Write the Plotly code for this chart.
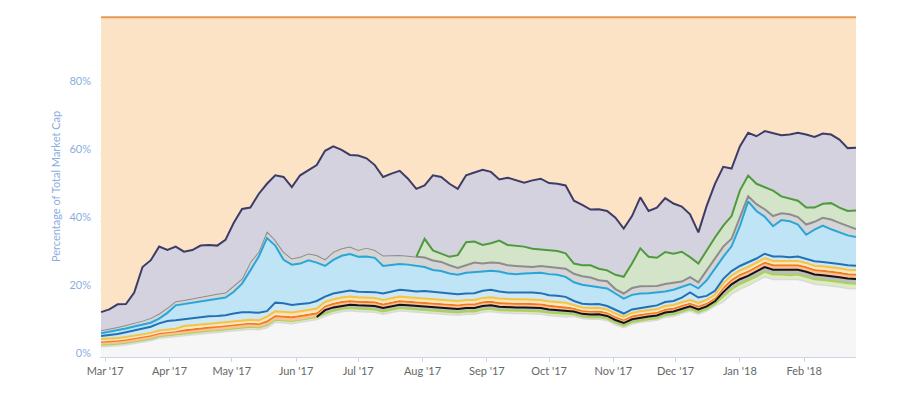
import numpy as np
import pandas as pd
import plotly.graph_objects as go

# ---- data (percent of total market cap), sampled every 4 days ----
dates = pd.date_range("2017-02-27", periods=92, freq="4D")

others = [3.0,3.1,3.3,3.6,4.0,4.4,4.8,5.5,5.8,6.0,
          6.3,6.6,6.8,7.0,7.2,7.4,7.8,8.0,8.2,8.0,
          8.6,10.2,10.0,9.8,10.2,10.5,11.0,12.0,12.8,13.3,
          13.6,13.4,13.3,13.2,12.6,13.2,13.6,13.4,13.2,13.2,
          13.0,12.8,12.6,12.3,12.6,12.6,13.2,13.4,13.0,12.8,
          12.8,12.8,12.7,12.6,12.2,12.0,11.8,12.0,11.3,11.1,
          11.2,10.7,9.5,8.6,9.7,10.2,10.5,10.8,11.7,12.0,
          12.8,13.5,12.6,13.5,15.0,16.2,18.5,20.0,21.0,22.2,
          23.6,22.8,22.8,22.6,22.8,22.2,21.4,21.2,21.0,20.6,
          20.2,20.1]

cardano = [0.6,0.6,0.6,0.6,0.6,0.6,0.6,0.6,0.6,0.6,
           0.7,0.7,0.7,0.7,0.7,0.7,0.7,0.7,0.7,0.7,
           0.8,0.8,0.8,0.8,0.8,0.8,0.8,0.8,0.8,0.8,
           0.8,0.8,0.8,0.8,0.8,0.8,0.8,0.8,0.8,0.8,
           0.8,0.8,0.8,0.8,0.8,0.8,0.8,0.8,0.8,0.8,
           0.8,0.8,0.8,0.8,0.8,0.8,0.8,0.6,0.6,0.6,
           0.6,0.6,0.6,0.6,0.6,0.6,0.6,0.6,0.6,0.6,
           0.6,0.6,0.6,0.6,0.6,1.5,1.5,1.5,1.5,1.5,
           1.5,1.5,1.5,1.5,1.5,1.5,1.5,1.5,1.5,1.5,
           1.5,1.5]

# IOTA: zero until listed in mid-June 2017 (index 27)
iota = [0,0,0,0,0,0,0,0,0,0,
        0,0,0,0,0,0,0,0,0,0,
        0,0,0,0,0,0,0,1.0,1.0,1.0,
        1.0,1.0,1.0,1.0,1.0,1.0,1.0,1.0,1.0,1.0,
        1.0,1.0,1.0,1.0,1.0,1.0,1.0,1.0,1.0,1.0,
        1.0,1.0,1.0,1.0,1.0,1.0,1.0,0.8,0.8,0.8,
        0.8,0.8,0.8,0.8,0.8,0.8,0.8,0.8,0.8,0.8,
        0.8,0.8,0.8,0.8,0.8,1.4,1.4,1.4,1.4,1.4,
        1.4,1.4,1.4,1.4,1.4,1.4,1.4,1.4,1.4,1.4,
        1.4,1.4]

monero = [0.9,0.9,0.9,0.9,0.9,0.9,0.9,0.9,0.9,0.9,
          1.0,1.0,1.0,1.0,1.0,1.0,1.0,1.0,1.0,1.0,
          1.1,1.1,1.1,1.1,1.1,1.1,1.1,1.1,1.1,1.1,
          1.1,1.1,1.1,1.1,1.1,1.1,1.1,1.1,1.1,1.1,
          1.1,1.1,1.1,1.1,1.1,1.1,1.1,1.1,1.1,1.1,
          1.1,1.1,1.1,1.1,1.1,1.1,1.1,0.9,0.9,0.9,
          0.9,0.9,0.9,0.9,0.9,0.9,0.9,0.9,0.9,0.9,
          0.9,0.9,0.9,0.9,0.9,1.3,1.3,1.3,1.3,1.3,
          1.3,1.3,1.3,1.3,1.3,1.3,1.3,1.3,1.3,1.3,
          1.3,1.3]

etc = [0.3,0.3,0.3,0.3,0.3,0.3,0.3,0.3,0.3,0.3,
       0.4,0.4,0.4,0.4,0.4,0.4,0.4,0.4,0.4,0.4,
       0.5,0.5,0.5,0.5,0.5,0.5,0.5,0.5,0.5,0.5,
       0.5,0.5,0.5,0.5,0.5,0.5,0.5,0.5,0.5,0.5,
       0.5,0.5,0.5,0.5,0.5,0.5,0.5,0.5,0.5,0.5,
       0.5,0.5,0.5,0.5,0.5,0.5,0.5,0.4,0.4,0.4,
       0.4,0.4,0.4,0.4,0.4,0.4,0.4,0.4,0.4,0.4,
       0.4,0.4,0.4,0.4,0.4,0.5,0.5,0.5,0.5,0.5,
       0.5,0.5,0.5,0.5,0.5,0.5,0.5,0.5,0.5,0.5,
       0.5,0.5]

nem = [0.5,0.5,0.5,0.5,0.5,0.5,0.5,0.5,0.5,0.5,
       0.7,0.7,0.7,0.7,0.7,0.7,0.7,0.7,0.7,0.7,
       0.9,0.9,0.9,0.9,0.9,0.9,0.9,0.8,0.8,0.8,
       0.8,0.8,0.8,0.8,0.8,0.8,0.8,0.8,0.8,0.8,
       0.8,0.8,0.8,0.8,0.8,0.8,0.8,0.8,0.8,0.8,
       0.8,0.8,0.8,0.8,0.8,0.8,0.8,0.6,0.6,0.6,
       0.6,0.6,0.6,0.6,0.6,0.6,0.6,0.6,0.6,0.6,
       0.6,0.6,0.6,0.6,0.6,0.8,0.8,0.8,0.8,0.8,
       0.8,0.8,0.8,0.8,0.8,0.8,0.8,0.8,0.8,0.8,
       0.8,0.8]

dash = [0.9,1.0,1.2,1.4,1.6,1.7,1.8,2.1,2.5,2.5,
        2.0,2.2,2.2,2.2,2.1,2.1,2.2,2.4,2.2,2.2,
        1.6,2.5,2.5,2.2,2.1,2.0,2.2,1.6,1.7,1.7,
        1.8,1.6,1.7,1.7,1.9,1.8,2.0,2.0,1.9,2.0,
        2.0,2.0,1.9,2.0,1.9,2.0,2.1,2.2,2.1,2.0,
        2.0,2.1,2.1,2.0,1.8,1.8,1.7,1.2,1.1,1.1,
        1.1,1.0,1.0,0.9,1.0,1.0,1.0,1.1,1.2,1.2,
        1.4,2.2,1.6,1.2,1.2,1.3,1.3,1.3,1.3,1.3,
        1.3,1.3,1.3,1.3,1.3,1.3,1.3,1.3,1.3,1.3,
        1.3,1.3]

ripple = [0.8,1.0,1.1,1.1,1.1,1.1,1.2,1.4,2.4,4.4,
          4.5,4.4,4.5,4.7,5.0,5.2,6.4,8.4,12.3,16.5,
          21.5,16.8,12.8,11.9,11.9,12.7,11.3,9.0,9.9,10.6,
          10.7,10.3,10.4,10.1,8.1,8.0,7.6,7.6,7.6,7.1,
          6.4,6.3,5.9,5.7,6.1,6.3,5.7,5.6,5.9,5.6,
          5.4,5.5,5.7,6.0,6.2,6.2,5.9,5.5,5.6,5.5,
          4.9,5.2,4.9,4.4,4.3,4.2,4.0,3.8,3.1,3.3,
          3.1,2.5,2.7,4.6,6.5,6.5,7.3,11.7,18.0,14.0,
          10.9,8.9,10.7,10.6,9.4,7.0,9.3,10.7,9.8,9.4,
          8.8,8.4]

litecoin = [0.9,0.9,0.9,1.0,1.0,1.2,1.4,1.5,1.5,1.2,
            1.2,1.3,1.4,1.5,1.5,1.5,1.8,1.5,2.5,1.5,
            2.0,1.7,2.4,1.8,2.0,2.0,2.2,2.0,2.4,2.2,
            2.2,2.0,2.6,2.3,3.1,2.8,2.6,2.6,2.6,2.8,
            2.8,2.7,2.4,2.0,2.2,2.7,2.3,2.4,2.5,2.4,
            2.4,2.1,1.8,2.0,2.1,2.1,2.4,2.5,2.5,2.4,
            2.1,2.1,1.3,1.5,2.0,2.1,2.0,1.9,2.2,2.0,
            1.6,2.0,1.8,2.9,3.0,3.0,2.2,2.5,1.5,2.0,
            2.2,3.0,2.0,2.0,2.2,3.0,2.3,2.3,2.9,2.7,
            2.7,2.4]

# Bitcoin Cash: zero until the fork on 1 Aug 2017 (index 39)
bitcoin_cash = [0,0,0,0,0,0,0,0,0,0,
                0,0,0,0,0,0,0,0,0,0,
                0,0,0,0,0,0,0,0,0,0,
                0,0,0,0,0,0,0,0,0,5.5,
                3.0,2.5,2.5,3.8,6.8,6.2,5.5,5.7,6.6,6.0,
                6.0,5.8,5.4,4.8,4.9,4.9,4.5,3.0,3.2,3.6,
                3.4,3.2,4.2,4.9,7.2,11.2,8.7,8.3,9.4,8.6,
                8.8,5.9,5.5,6.0,6.2,6.2,6.7,8.0,6.1,6.0,
                6.5,7.5,5.0,4.6,4.8,5.0,4.2,4.1,4.8,4.5,
                4.5,5.4]

ethereum = [5.3,5.7,6.7,6.2,9.0,15.8,17.0,19.7,17.0,16.1,
            14.2,14.2,15.1,14.8,14.2,15.5,18.5,20.5,16.0,17.0,
            14.0,19.0,22.0,21.0,24.0,24.5,26.5,31.9,31.0,29.0,
            27.0,27.8,26.3,25.0,23.1,24.0,24.8,22.7,20.0,15.7,
            22.1,22.5,21.5,19.5,19.7,20.3,22.1,21.0,18.0,19.8,
            19.2,18.8,20.1,20.9,19.8,19.8,20.0,18.5,17.8,16.4,
            17.5,17.5,16.8,14.2,14.0,15.0,13.5,14.8,15.9,14.8,
            13.3,12.6,9.2,13.0,15.8,17.3,14.0,13.0,12.6,14.0,
            16.5,17.0,18.0,18.9,20.0,21.5,20.8,20.7,20.2,20.0,
            18.5,18.5]

bitcoin = [86.8,86.0,84.5,84.4,81.0,73.5,71.5,67.5,68.5,67.5,
           69.0,68.5,67.2,67.0,67.2,65.5,60.5,56.4,56.0,52.0,
           49.0,46.5,47.0,50.0,46.5,45.0,43.5,39.3,38.0,39.0,
           40.5,40.7,41.5,43.5,47.0,46.0,45.2,47.5,50.5,49.5,
           46.5,47.0,49.0,50.5,46.5,45.7,44.9,45.5,47.7,47.2,
           48.0,48.7,48.0,47.5,48.8,49.0,49.5,54.0,55.2,56.6,
           56.5,57.0,59.0,62.2,58.5,53.0,57.0,56.0,53.2,54.8,
           55.7,58.0,63.3,55.5,49.0,44.0,44.5,38.0,34.0,35.0,
           33.5,34.0,34.7,34.5,34.0,34.5,35.2,34.2,34.5,36.0,
           38.5,38.4]

iota_listed = 27     # first sample with IOTA data
bch_listed = 39      # first sample after the Bitcoin Cash fork

month_ticks = pd.date_range("2017-03-01", "2018-02-01", freq="MS")
month_labels = ["Mar '17", "Apr '17", "May '17", "Jun '17", "Jul '17", "Aug '17",
                "Sep '17", "Oct '17", "Nov '17", "Dec '17", "Jan '18", "Feb '18"]
y_ticks = [0, 20, 40, 60, 80]
y_labels = ["0%", "20%", "40%", "60%", "80%"]

# ---- styling (bottom of stack first) ----
series = [
    ("Others", others, "#d9d9d9", "#f6f6f6", 1.5),
    ("Cardano", cardano, "#a9d15b", "#dcecc0", 2),
    ("IOTA", iota, "#141414", "#bdbdbd", 0),
    ("Monero", monero, "#f27a1f", "#f8c295", 2),
    ("Ethereum Classic", etc, "#fde6c6", "#fff2e0", 1.5),
    ("NEM", nem, "#f4c446", "#fae3a3", 2),
    ("Dash", dash, "#2271b5", "#cfe8f6", 2),
    ("Ripple", ripple, "#29a6d9", "#bfe4f5", 2),
    ("Litecoin", litecoin, "#8d8d8d", "#d5d5d5", 2),
    ("Bitcoin Cash", bitcoin_cash, "#4f9a3d", "#d3e4c9", 0),
    ("Ethereum", ethereum, "#3d3c66", "#d4d2df", 2),
    ("Bitcoin", bitcoin, "#e39a55", "#fde3c5", 2),
]

fig = go.Figure()
for name, y, lc, fc, lw in series:
    fig.add_trace(go.Scatter(
        x=dates, y=y, name=name, mode="lines",
        stackgroup="dominance", groupnorm="percent" if name == "Others" else None,
        line=dict(color=lc, width=lw), fillcolor=fc,
        hoverinfo="x+name",
    ))

# top-edge lines of the two coins that were listed part-way through the period
stack = np.array([s[1] for s in series], dtype=float)
cum = np.cumsum(stack, axis=0) / stack.sum(axis=0) * 100.0
names = [s[0] for s in series]
for name, start, color in (("IOTA", iota_listed, "#141414"),
                           ("Bitcoin Cash", bch_listed, "#4f9a3d")):
    k = names.index(name)
    fig.add_trace(go.Scatter(
        x=dates[start - 1:], y=cum[k, start - 1:], mode="lines",
        line=dict(color=color, width=2), hoverinfo="skip", showlegend=False,
    ))

font = "Lato, Open Sans, sans-serif"
fig.update_layout(
    width=900, height=394,
    margin=dict(l=92, r=52, t=8, b=45),
    paper_bgcolor="white", plot_bgcolor="white",
    showlegend=False,
    font=dict(family=font, size=11, color="#666666"),
    xaxis=dict(
        type="date",
        range=["2017-02-26 12:00", "2018-02-26"],
        tickvals=month_ticks, ticktext=month_labels,
        showgrid=False, showline=True, linecolor="#ccd6eb", linewidth=1,
        ticks="outside", ticklen=4, tickcolor="#ccd6eb",
        tickfont=dict(size=11, color="#666666"),
        zeroline=False,
    ),
    yaxis=dict(
        range=[0, 100.4],
        tickvals=y_ticks, ticktext=y_labels,
        showgrid=True, gridcolor="#e6e6e6",
        tickfont=dict(size=11, color="#8cade0"),
        ticklabelstandoff=8,
        ticklabelshift=-4,
        title=dict(text="Percentage of Total Market Cap", standoff=6,
                   font=dict(size=11, color="#8cade0")),
        zeroline=False, showline=False,
    ),
)

fig.write_html("out.html")
